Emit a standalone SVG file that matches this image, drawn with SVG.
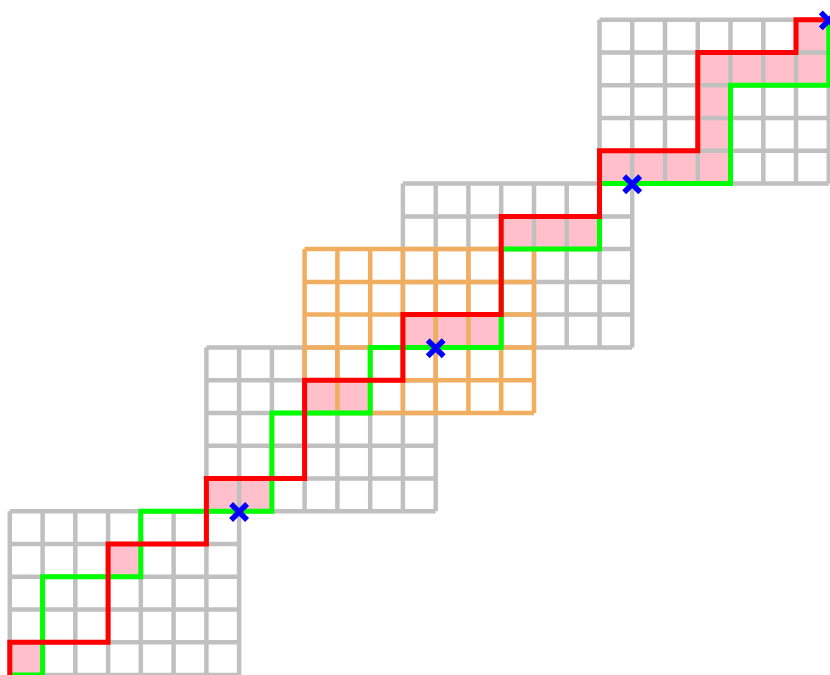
<svg xmlns="http://www.w3.org/2000/svg" xmlns:xlink="http://www.w3.org/1999/xlink" width="830" height="675" viewBox="0 0 830 675">
  <style>
    .cell { fill: #ffc0cb; stroke: none; }
    .grid { fill: none; stroke: #c0c0c0; stroke-width: 4.5; stroke-linecap: butt; }
    .grid-hi { fill: none; stroke: #f2ae60; stroke-width: 4.5; stroke-linecap: butt; }
    .path { fill: none; stroke-width: 5; stroke-linejoin: miter; stroke-linecap: butt; }
    .red { stroke: #ff0000; }
    .green { stroke: #00ff00; }
    .mark { fill: none; stroke: #0000ff; stroke-width: 5.5; stroke-linecap: butt; }
  </style>
  <defs>
    <g id="xmark">
      <line class="mark" x1="-8" y1="-8" x2="8" y2="8"/>
      <line class="mark" x1="-8" y1="8" x2="8" y2="-8"/>
    </g>
  </defs>
  <rect width="830" height="675" fill="#ffffff"/>

  <g id="highlights">
    <rect class="cell" x="9.8" y="642.2" width="32.8" height="32.8"/>
    <rect class="cell" x="108.1" y="544.0" width="32.7" height="32.7"/>
    <rect class="cell" x="206.4" y="478.4" width="65.5" height="32.8"/>
    <rect class="cell" x="304.6" y="380.2" width="65.6" height="32.7"/>
    <rect class="cell" x="402.9" y="314.6" width="98.3" height="32.8"/>
    <rect class="cell" x="501.2" y="216.4" width="98.3" height="32.7"/>
    <rect class="cell" x="599.5" y="150.8" width="131.0" height="32.8"/>
    <rect class="cell" x="697.8" y="52.6" width="32.7" height="98.2"/>
    <rect class="cell" x="697.8" y="52.6" width="131.0" height="32.7"/>
    <rect class="cell" x="796.0" y="19.8" width="32.8" height="32.8"/>
  </g>

  <g id="grid1">
    <path class="grid" d="M9.8,511.2V675M42.6,511.2V675M75.3,511.2V675M108.1,511.2V675M140.8,511.2V675M173.6,511.2V675M206.4,511.2V675M239.1,511.2V675
      M9.8,511.2H239.1M9.8,544H239.1M9.8,576.7H239.1M9.8,609.5H239.1M9.8,642.2H239.1M9.8,675H239.1"/>
  </g>
  <g id="grid2">
    <path class="grid" d="M206.4,347.4V511.2M239.1,347.4V511.2M271.9,347.4V511.2M304.6,347.4V511.2M337.4,347.4V511.2M370.2,347.4V511.2M402.9,347.4V511.2M435.7,347.4V511.2
      M206.4,347.4H435.7M206.4,380.2H435.7M206.4,412.9H435.7M206.4,445.7H435.7M206.4,478.4H435.7M206.4,511.2H435.7"/>
  </g>
  <g id="grid4">
    <path class="grid" d="M402.9,183.6V347.4M435.7,183.6V347.4M468.4,183.6V347.4M501.2,183.6V347.4M534,183.6V347.4M566.7,183.6V347.4M599.5,183.6V347.4M632.2,183.6V347.4
      M402.9,183.6H632.2M402.9,216.4H632.2M402.9,249.1H632.2M402.9,281.9H632.2M402.9,314.6H632.2M402.9,347.4H632.2"/>
  </g>
  <g id="grid5">
    <path class="grid" d="M599.5,19.8V183.6M632.2,19.8V183.6M665,19.8V183.6M697.8,19.8V183.6M730.5,19.8V183.6M763.3,19.8V183.6M796,19.8V183.6M828.8,19.8V183.6
      M599.5,19.8H828.8M599.5,52.6H828.8M599.5,85.3H828.8M599.5,118.1H828.8M599.5,150.8H828.8M599.5,183.6H828.8"/>
  </g>
  <g id="grid3">
    <path class="grid-hi" d="M304.6,249.1V412.9M337.4,249.1V412.9M370.2,249.1V412.9M402.9,249.1V412.9M435.7,249.1V412.9M468.4,249.1V412.9M501.2,249.1V412.9M534,249.1V412.9
      M304.6,249.1H534M304.6,281.9H534M304.6,314.6H534M304.6,347.4H534M304.6,380.2H534M304.6,412.9H534"/>
  </g>

  <g id="connectors">
    <path class="path green" d="M9.8,675H42.6V576.7H140.8V511.2H271.9V412.9H370.2V347.4H501.2V249.1H599.5V183.6H730.5V85.3H828.8V19.8"/>
    <path class="path red" d="M9.8,680V642.2H108.1V544H206.4V478.4H304.6V380.2H402.9V314.6H501.2V216.4H599.5V150.8H697.8V52.6H796V19.8H832"/>
  </g>

  <g id="marks">
    <use xlink:href="#xmark" href="#xmark" x="239.1" y="512"/>
    <use xlink:href="#xmark" href="#xmark" x="435.7" y="348.2"/>
    <use xlink:href="#xmark" href="#xmark" x="632.2" y="184.2"/>
    <use xlink:href="#xmark" href="#xmark" x="828.8" y="20.4"/>
  </g>
</svg>
